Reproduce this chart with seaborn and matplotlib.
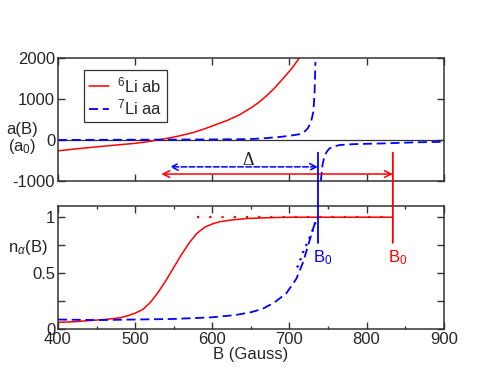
import numpy as np
import matplotlib
matplotlib.use("Agg")
import matplotlib.pyplot as plt
import seaborn as sns
from matplotlib.patches import ConnectionPatch

# --- donnees ---
# panneau haut : longueur de diffusion a(B) en a0
b_li6_a = [400, 425, 450, 475, 500, 515, 530, 545, 560, 575, 590, 605, 620, 635,
           650, 660, 670, 680, 692, 703, 713, 720]
a_li6 = [-265, -215, -168, -125, -82, -45, 0, 50, 110, 180, 270, 375, 480, 610,
         780, 910, 1070, 1250, 1500, 1740, 2000, 2200]

b_li7_up = [400, 500, 600, 649, 670, 691, 705, 713, 720, 724, 728, 731, 732.5, 733.7]
a_li7_up = [0, 5, 12, 20, 45, 80, 115, 140, 210, 290, 440, 690, 1130, 1900]
b_li7_low = [740.7, 742.8, 745.8, 749, 752, 758, 765, 775, 787, 821, 860, 900]
a_li7_low = [-1000, -610, -370, -270, -205, -155, -125, -110, -100, -85, -60, -45]

# panneau bas : n_alpha(B)
b_li6_n = [400, 420, 440, 460, 480, 490, 500, 510, 520, 530, 540, 550, 560, 570,
           580, 590, 600, 610, 625, 644, 670, 700, 834]
n_li6 = [0.06, 0.065, 0.075, 0.085, 0.10, 0.118, 0.142, 0.175, 0.24, 0.33, 0.435, 0.55,
         0.665, 0.77, 0.855, 0.91, 0.94, 0.96, 0.975, 0.988, 0.995, 1.0, 1.0]
b_li6_dot = [580, 834]
n_li6_dot = [1.0, 1.0]

b_li7_n = [400, 450, 500, 550, 600, 630, 650, 665, 680, 696, 709, 717.8, 725.6,
           730.8, 735, 737]
n_li7 = [0.085, 0.08, 0.085, 0.09, 0.105, 0.125, 0.15, 0.18, 0.235, 0.32, 0.45,
         0.60, 0.78, 0.90, 0.99, 1.0]
b_li7_dot = [710, 712.6, 717.8, 725.6, 729.9, 733, 735, 737]
n_li7_dot = [0.55, 0.59, 0.69, 0.81, 0.88, 0.94, 0.99, 1.0]

B0_li7 = 737
B0_li6 = 834
delta_li7 = (545, -656)   # debut fleche bleue, hauteur
delta_li6 = (534, -830)

RED = "#ff0000"
BLUE = "#0000ff"

sns.set_style("ticks")
plt.rcParams['font.family'] = ['Liberation Sans', 'DejaVu Sans']
plt.rcParams['mathtext.fontset'] = 'custom'
plt.rcParams['mathtext.rm'] = 'Liberation Sans'
plt.rcParams['mathtext.it'] = 'Liberation Sans:italic'
plt.rcParams['mathtext.sf'] = 'Liberation Sans'
plt.rcParams['axes.unicode_minus'] = False
plt.rcParams['font.size'] = 12

fig = plt.figure(figsize=(5.02, 3.88), dpi=100)
ax1 = fig.add_axes([0.1155, 0.5335, 0.7685, 0.3175])
ax2 = fig.add_axes([0.1155, 0.152, 0.7685, 0.317])

dash = (0, (5, 2.6))

# --- panneau haut ---
ax1.axhline(0, color="#333333", lw=0.9, zorder=1)
sns.lineplot(x=b_li6_a, y=a_li6, ax=ax1, color=RED, lw=1.1, label="$^{6}$Li ab", sort=False)
sns.lineplot(x=b_li7_up, y=a_li7_up, ax=ax1, color=BLUE, lw=1.3, linestyle=dash,
             label="$^{7}$Li aa", sort=False)
sns.lineplot(x=b_li7_low, y=a_li7_low, ax=ax1, color=BLUE, lw=1.3, linestyle=dash, sort=False)

ax1.annotate("", xy=(delta_li7[0], delta_li7[1]), xytext=(B0_li7, delta_li7[1]),
             arrowprops=dict(arrowstyle="<->", color=BLUE, lw=1.1, linestyle="--",
                             shrinkA=0, shrinkB=0))
ax1.annotate("", xy=(delta_li6[0], delta_li6[1]), xytext=(B0_li6, delta_li6[1]),
             arrowprops=dict(arrowstyle="<->", color=RED, lw=1.1,
                             shrinkA=0, shrinkB=0))
ax1.text(647, -510, "Δ", ha="center", va="center", fontsize=13, family="Liberation Serif")

ax1.set_xlim(400, 900)
ax1.set_ylim(-1000, 2000)
ax1.set_xticks(np.arange(400, 901, 100))
ax1.set_yticks([-1000, 0, 1000, 2000])
ax1.set_xticklabels([])
ax1.set_xlabel("")
ax1.set_ylabel("a(B)\n(a$_0$)", rotation=0, ha="center", va="center", linespacing=1.0)
ax1.yaxis.set_label_coords(-0.093, 0.34)

leg = ax1.legend(loc="upper left", bbox_to_anchor=(0.067, 0.9), borderaxespad=0,
                 fancybox=False, framealpha=1, edgecolor="#333333", handlelength=1.2,
                 handletextpad=0.5, borderpad=0.3, labelspacing=0.15, fontsize=12)
leg.get_frame().set_linewidth(0.9)

# --- panneau bas ---
sns.lineplot(x=b_li6_n, y=n_li6, ax=ax2, color=RED, lw=1.1, sort=False)
sns.lineplot(x=b_li6_dot, y=n_li6_dot, ax=ax2, color=RED, lw=1.6, linestyle=(0, (1, 4.5)), sort=False)
sns.lineplot(x=b_li7_n, y=n_li7, ax=ax2, color=BLUE, lw=1.3, linestyle=dash, sort=False)
sns.lineplot(x=b_li7_dot, y=n_li7_dot, ax=ax2, color=BLUE, lw=1.6, linestyle=(0, (1, 2.5)), sort=False)

ax2.set_xlim(400, 900)
ax2.set_ylim(0, 1.1)
ax2.set_xticks(np.arange(400, 901, 100))
ax2.set_xticks(np.arange(450, 900, 100), minor=True)
ax2.set_yticks([0, 0.25, 0.5, 0.75, 1])
ax2.set_yticklabels(["0", "", "0.5", "", "1"])
ax2.set_xlabel("B (Gauss)", labelpad=0)
ax2.set_ylabel("n$_\\alpha$(B)", rotation=0, ha="center", va="center")
ax2.yaxis.set_label_coords(-0.078, 0.664)

ax2.text(B0_li7 + 6, 0.72, "B$_0$", color=BLUE, ha="center", va="top", fontsize=12)
ax2.text(B0_li6 + 6, 0.72, "B$_0$", color=RED, ha="center", va="top", fontsize=12)

# traits verticaux B0 traversant les deux panneaux
for b0, col in [(B0_li7, BLUE), (B0_li6, RED)]:
    con = ConnectionPatch(xyA=(b0, -311), coordsA=ax1.transData,
                          xyB=(b0, 0.77), coordsB=ax2.transData,
                          color=col, lw=1.3, zorder=10)
    fig.add_artist(con)

for ax in (ax1, ax2):
    ax.tick_params(which="major", direction="in", length=4.8, width=1.0,
                   top=True, right=True, labelsize=12, pad=2, color="#333333")
    ax.tick_params(which="minor", direction="in", length=2.4, width=1.0,
                   top=True, right=True, color="#333333")
    for s in ax.spines.values():
        s.set_linewidth(1.1)
        s.set_color("#333333")
    ax.set_facecolor("white")

fig.savefig("out.png", dpi=100)
